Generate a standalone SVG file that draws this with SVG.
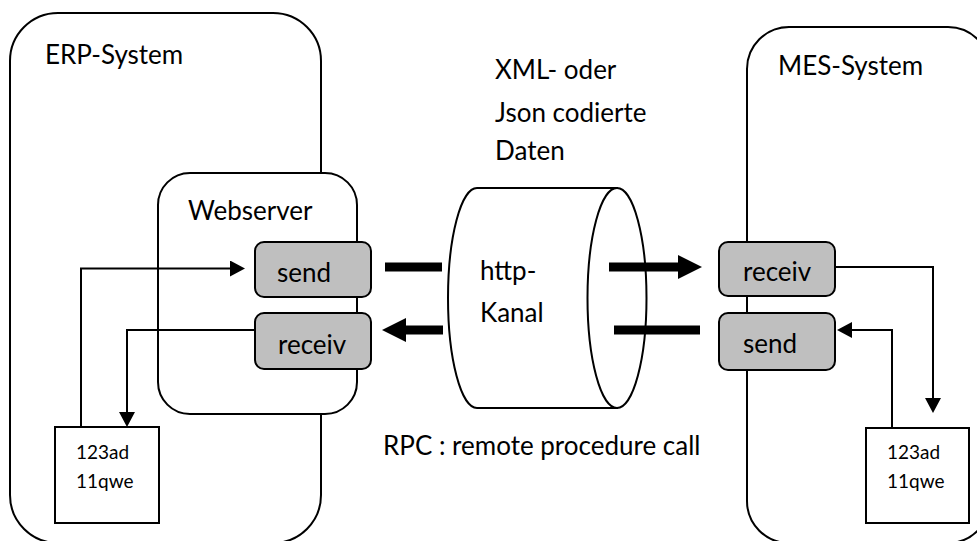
<svg xmlns="http://www.w3.org/2000/svg" width="977" height="541" viewBox="0 0 977 541">
  <style>
    .frame { fill: #ffffff; stroke: #000000; stroke-width: 2; }
    .port { fill: #bfbfbf; stroke: #000000; stroke-width: 2; }
    .store { fill: #ffffff; stroke: #000000; stroke-width: 2; }
    .label { font-family: Lato, "Liberation Sans", sans-serif; font-size: 26px; fill: #000000; }
    .small { font-family: Lato, "Liberation Sans", sans-serif; font-size: 19px; fill: #000000; }
    .wire { fill: none; stroke: #000000; stroke-width: 2; }
    .pipe { fill: none; stroke: #000000; stroke-width: 9; }
  </style>
  <defs>
    <marker id="head" markerUnits="userSpaceOnUse" markerWidth="15" markerHeight="16" refX="0" refY="8" orient="auto">
      <path d="M0,0 L15,8 L0,16 Z" fill="#000000"/>
    </marker>
    <marker id="bighead" markerUnits="userSpaceOnUse" markerWidth="24" markerHeight="24" refX="0" refY="12" orient="auto">
      <path d="M0,0 L24,12 L0,24 Z" fill="#000000"/>
    </marker>
  </defs>
  <rect width="977" height="541" fill="#ffffff"/>

  <!-- ERP side -->
  <g id="erp-system">
    <rect class="frame" x="10" y="13" width="311" height="530" rx="48" ry="48"/>
    <text class="label" x="45" y="64">ERP-System</text>
  </g>
  <g id="webserver">
    <rect class="frame" x="158" y="173" width="199" height="241" rx="32" ry="32"/>
    <text class="label" x="188" y="220">Webserver</text>
  </g>
  <g id="erp-send">
    <rect class="port" x="255" y="242" width="116" height="55" rx="9" ry="9"/>
    <text class="label" x="277" y="282">send</text>
  </g>
  <g id="erp-receiv">
    <rect class="port" x="255" y="313" width="116" height="56" rx="9" ry="9"/>
    <text class="label" x="278" y="354">receiv</text>
  </g>
  <g id="erp-data">
    <rect class="store" x="55" y="427" width="104" height="96"/>
    <text class="small" x="76" y="459">123ad</text>
    <text class="small" x="76" y="488">11qwe</text>
  </g>

  <!-- MES side -->
  <g id="mes-system">
    <rect class="frame" x="747" y="27" width="243" height="516" rx="42" ry="42"/>
    <text class="label" x="778" y="75">MES-System</text>
  </g>
  <g id="mes-receiv">
    <rect class="port" x="719" y="242" width="116" height="54" rx="9" ry="9"/>
    <text class="label" x="743" y="281">receiv</text>
  </g>
  <g id="mes-send">
    <rect class="port" x="719" y="313" width="116" height="57" rx="9" ry="9"/>
    <text class="label" x="743" y="353">send</text>
  </g>
  <g id="mes-data">
    <rect class="store" x="866" y="428" width="103" height="95"/>
    <text class="small" x="887" y="459">123ad</text>
    <text class="small" x="887" y="488">11qwe</text>
  </g>

  <!-- channel -->
  <g id="http-channel">
    <path class="frame" d="M477,188 L617,188 L617,408 L477,408 A29,110 0 0 1 477,188 Z"/>
    <ellipse class="frame" cx="617" cy="298" rx="29.5" ry="110"/>
    <text class="label" x="480" y="280">http-</text>
    <text class="label" x="480" y="322">Kanal</text>
  </g>
  <g id="payload-note">
    <text class="label" x="495" y="79">XML- oder</text>
    <text class="label" x="495" y="122">Json codierte</text>
    <text class="label" x="495" y="160">Daten</text>
  </g>
  <g id="rpc-note">
    <text class="label" x="383" y="455">RPC : remote procedure call</text>
  </g>

  <!-- connectors -->
  <g id="connectors">
    <path class="wire" d="M81,427 V268.5 H230" marker-end="url(#head)"/>
    <path class="wire" d="M255,330 H127 V412" marker-end="url(#head)"/>
    <path class="wire" d="M835,267 H933 V398" marker-end="url(#head)"/>
    <path class="wire" d="M892,428 V330 H852" marker-end="url(#head)"/>
    <path class="pipe" d="M385,267 H442"/>
    <path class="pipe" d="M443,330 H406" marker-end="url(#bighead)"/>
    <path class="pipe" d="M609,267 H678" marker-end="url(#bighead)"/>
    <path class="pipe" d="M614,330 H700"/>
  </g>
</svg>
